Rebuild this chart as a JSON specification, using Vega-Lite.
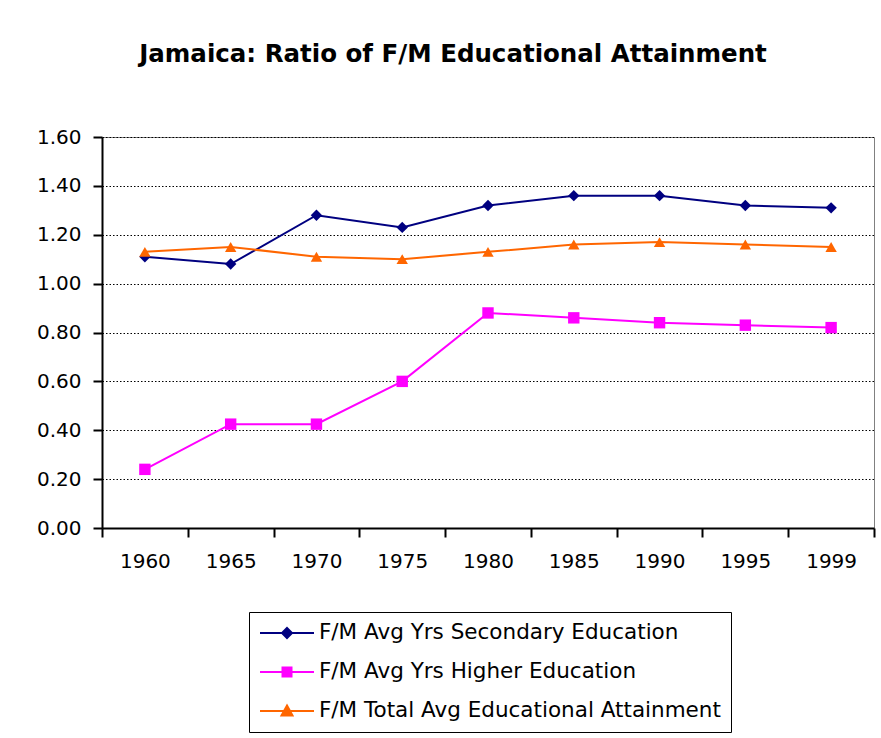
{
  "$schema": "https://vega.github.io/schema/vega-lite/v6.json",
  "width": 772,
  "height": 391,
  "autosize": "none",
  "padding": {"left": 102, "top": 137, "right": 7, "bottom": 210},
  "background": "white",
  "title": {
    "text": "Jamaica: Ratio of F/M Educational Attainment",
    "anchor": "middle",
    "frame": "group",
    "dx": -35,
    "offset": 41,
    "baseline": "alphabetic",
    "font": "DejaVu Sans",
    "fontSize": 24.5,
    "fontWeight": "bold",
    "color": "black"
  },
  "config": {
    "view": {"stroke": "#808080", "strokeWidth": 1},
    "axis": {
      "labelFont": "DejaVu Sans",
      "labelFontSize": 20,
      "labelColor": "black",
      "domainColor": "black",
      "domainWidth": 2,
      "tickColor": "black",
      "tickWidth": 2,
      "tickSize": 9,
      "title": null
    }
  },
  "data": {
    "values": [
      {"year": "1960", "series": "F/M Avg Yrs Secondary Education", "ratio": 1.11},
      {"year": "1965", "series": "F/M Avg Yrs Secondary Education", "ratio": 1.08},
      {"year": "1970", "series": "F/M Avg Yrs Secondary Education", "ratio": 1.28},
      {"year": "1975", "series": "F/M Avg Yrs Secondary Education", "ratio": 1.23},
      {"year": "1980", "series": "F/M Avg Yrs Secondary Education", "ratio": 1.32},
      {"year": "1985", "series": "F/M Avg Yrs Secondary Education", "ratio": 1.36},
      {"year": "1990", "series": "F/M Avg Yrs Secondary Education", "ratio": 1.36},
      {"year": "1995", "series": "F/M Avg Yrs Secondary Education", "ratio": 1.32},
      {"year": "1999", "series": "F/M Avg Yrs Secondary Education", "ratio": 1.31},
      {"year": "1960", "series": "F/M Avg Yrs Higher Education", "ratio": 0.24},
      {"year": "1965", "series": "F/M Avg Yrs Higher Education", "ratio": 0.425},
      {"year": "1970", "series": "F/M Avg Yrs Higher Education", "ratio": 0.425},
      {"year": "1975", "series": "F/M Avg Yrs Higher Education", "ratio": 0.6},
      {"year": "1980", "series": "F/M Avg Yrs Higher Education", "ratio": 0.88},
      {"year": "1985", "series": "F/M Avg Yrs Higher Education", "ratio": 0.86},
      {"year": "1990", "series": "F/M Avg Yrs Higher Education", "ratio": 0.84},
      {"year": "1995", "series": "F/M Avg Yrs Higher Education", "ratio": 0.83},
      {"year": "1999", "series": "F/M Avg Yrs Higher Education", "ratio": 0.82},
      {"year": "1960", "series": "F/M Total Avg Educational Attainment", "ratio": 1.13},
      {"year": "1965", "series": "F/M Total Avg Educational Attainment", "ratio": 1.15},
      {"year": "1970", "series": "F/M Total Avg Educational Attainment", "ratio": 1.11},
      {"year": "1975", "series": "F/M Total Avg Educational Attainment", "ratio": 1.1},
      {"year": "1980", "series": "F/M Total Avg Educational Attainment", "ratio": 1.13},
      {"year": "1985", "series": "F/M Total Avg Educational Attainment", "ratio": 1.16},
      {"year": "1990", "series": "F/M Total Avg Educational Attainment", "ratio": 1.17},
      {"year": "1995", "series": "F/M Total Avg Educational Attainment", "ratio": 1.16},
      {"year": "1999", "series": "F/M Total Avg Educational Attainment", "ratio": 1.15}
    ]
  },
  "encoding": {
    "x": {
      "field": "year",
      "type": "ordinal",
      "sort": null,
      "scale": {"paddingInner": 0, "paddingOuter": 0},
      "axis": {
        "labelAngle": 0,
        "tickBand": "extent",
        "labelPadding": 14,
        "grid": false
      }
    },
    "y": {
      "field": "ratio",
      "type": "quantitative",
      "scale": {"domain": [0, 1.6], "nice": false},
      "axis": {
        "values": [0, 0.2, 0.4, 0.6, 0.8, 1.0, 1.2, 1.4, 1.6],
        "format": ".2f",
        "labelPadding": 12,
        "grid": true,
        "gridColor": "black",
        "gridDash": [1.5, 2],
        "gridWidth": 1
      }
    },
    "color": {
      "field": "series",
      "type": "nominal",
      "scale": {
        "domain": ["F/M Avg Yrs Secondary Education", "F/M Avg Yrs Higher Education", "F/M Total Avg Educational Attainment"],
        "range": ["#000080", "#FF00FF", "#FF6600"]
      },
      "legend": {
        "orient": "none",
        "legendX": 147,
        "legendY": 475,
        "title": null,
        "strokeColor": "black",
        "padding": 10,
        "symbolSize": 400,
        "symbolOffset": 17,
        "symbolStrokeWidth": 2,
        "labelFont": "DejaVu Sans",
        "labelFontSize": 21.5,
        "labelColor": "black",
        "labelLimit": 0,
        "labelOffset": 21,
        "rowPadding": 17,
        "encode": {
          "symbols": {
            "update": {
              "shape": {"signal": "datum.value === 'F/M Avg Yrs Secondary Education' ? 'M-2.7,0L2.7,0M0,-0.5L0.5,0L0,0.5L-0.5,0Z' : datum.value === 'F/M Avg Yrs Higher Education' ? 'M-2.7,0L2.7,0M-0.45,-0.45L0.45,-0.45L0.45,0.45L-0.45,0.45Z' : 'M-2.7,0L2.7,0M0,-0.55L0.55,0.45L-0.55,0.45Z'"},
              "stroke": {"signal": "scale('color', datum.value)"},
              "fill": {"signal": "scale('color', datum.value)"},
              "strokeWidth": {"value": 2}
            }
          }
        }
      }
    }
  },
  "layer": [
    {
      "mark": {"type": "line", "strokeWidth": 2}
    },
    {
      "mark": {"type": "point", "filled": true, "size": 130, "opacity": 1},
      "encoding": {
        "shape": {
          "field": "series",
          "type": "nominal",
          "legend": null,
          "scale": {
            "domain": ["F/M Total Avg Educational Attainment", "F/M Avg Yrs Higher Education", "F/M Avg Yrs Secondary Education"],
            "range": ["triangle-up", "square", "diamond"]
          }
        }
      }
    }
  ]
}
